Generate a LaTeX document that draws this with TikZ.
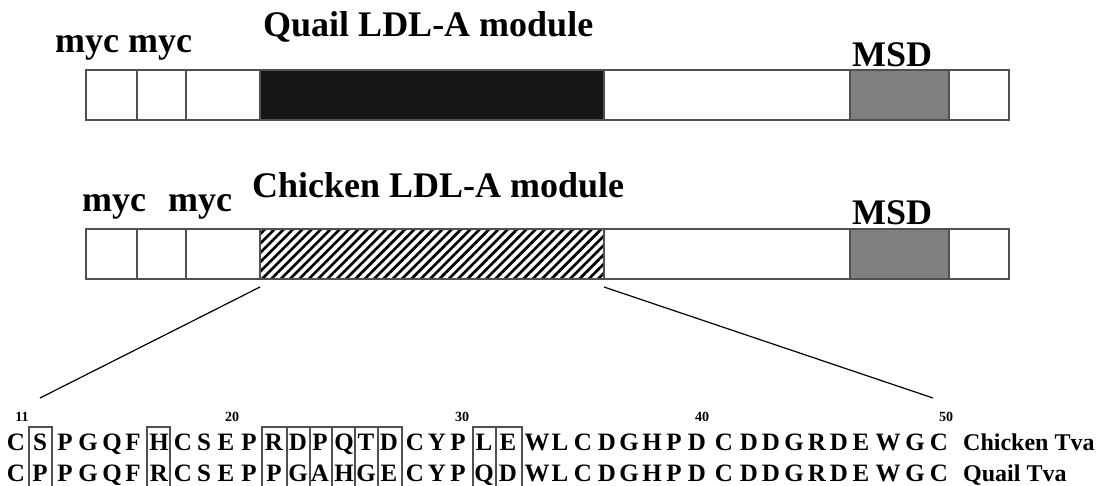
\documentclass[tikz,border=0pt]{standalone}
\usepackage{fontspec}
\setmainfont{Liberation Serif}
\usetikzlibrary{positioning,patterns.meta}
\definecolor{msdgray}{HTML}{7F7F7F}
\definecolor{edgegray}{HTML}{505050}
\definecolor{ldlblack}{HTML}{161616}

\begin{document}
\begin{tikzpicture}[
  x=1pt,
  y=-1pt,
  seg/.style={draw=edgegray, line width=1.2pt, fill=white, minimum height=50pt, inner sep=0pt, outer sep=0pt},
  quailmod/.style={seg, fill=ldlblack},
  chickmod/.style={seg, pattern={Lines[angle=45, distance=6.6pt, line width=2.7pt]}},
  msd/.style={seg, fill=msdgray},
  head/.style={font=\fontsize{36}{36}\selectfont\bfseries, anchor=base west, inner sep=0pt},
  res/.style={font=\fontsize{25}{25}\selectfont\bfseries, anchor=base, inner sep=0pt},
  tvalab/.style={font=\fontsize{24}{24}\selectfont\bfseries, anchor=base west, inner sep=0pt},
  num/.style={font=\fontsize{14}{14}\selectfont\bfseries, anchor=base, inner sep=0pt},
  seqbox/.style={draw=edgegray, line width=1.1pt},
  zoomline/.style={line width=1.2pt}
]
\useasboundingbox (0,0) rectangle (1098,485);

\node[head] (qmyc) at (55,52) {myc myc};
\node[head] (qtitle) at (263,36) {Quail LDL-A module};
\node[head] (qmsdlab) at (852,66) {MSD};
\node[seg, minimum width=51pt, anchor=west] (qa) at (86,95) {};
\node[seg, minimum width=49pt, right=0pt of qa] (qb) {};
\node[seg, minimum width=74pt, right=0pt of qb] (qc) {};
\node[quailmod, minimum width=344pt, right=0pt of qc] (qm) {};
\node[seg, minimum width=246pt, right=0pt of qm] (qd) {};
\node[msd, minimum width=99pt, right=0pt of qd] (qmsd) {};
\node[seg, minimum width=60pt, right=0pt of qmsd] (qe) {};

\node[head] (cmyc) at (82,211) {myc\hspace{22pt}myc};
\node[head] (ctitle) at (252,197) {Chicken LDL-A module};
\node[head] (cmsdlab) at (852,224) {MSD};
\node[seg, minimum width=51pt, anchor=west] (ca) at (86,254) {};
\node[seg, minimum width=49pt, right=0pt of ca] (cb) {};
\node[seg, minimum width=74pt, right=0pt of cb] (cc) {};
\node[chickmod, minimum width=344pt, right=0pt of cc] (cm) {};
\node[seg, minimum width=246pt, right=0pt of cm] (cd) {};
\node[msd, minimum width=99pt, right=0pt of cd] (cmsd) {};
\node[seg, minimum width=60pt, right=0pt of cmsd] (ce) {};

\coordinate (zl) at (40,398);
\coordinate (zr) at (933,398);
\draw[zoomline] ([yshift=-8pt]cm.south west) -- (zl);
\draw[zoomline] ([yshift=-8pt]cm.south east) -- (zr);

\foreach \a/\b in {29/52, 147/170, 262/287, 287/310, 310/332, 332/355, 355/378, 378/402, 473/496, 496/522}
  \draw[seqbox] (\a,427) rectangle (\b,492);

\foreach \n/\x in {11/22, 20/232, 30/462, 40/702, 50/946}
  \node[num] (n\n) at (\x,421) {\n};

\foreach \n/\x/\c/\q in {11/16/C/C, 12/40/S/P, 13/65/P/P, 14/88/G/G, 15/112/Q/Q, 16/133/F/F, 17/159/H/R, 18/183/C/C, 19/204/S/S, 20/226/E/E,
    21/249/P/P, 22/274/R/P, 23/298/D/G, 24/320/P/A, 25/344/Q/H, 26/366/T/G, 27/389/D/E, 28/415/C/C, 29/437/Y/Y, 30/458/P/P,
    31/484/L/Q, 32/508/E/D, 33/537/W/W, 34/560/L/L, 35/583/C/C, 36/607/D/D, 37/629/G/G, 38/652/H/H, 39/674/P/P, 40/697/D/D,
    41/724/C/C, 42/749/D/D, 43/771/D/D, 44/794/G/G, 45/817/R/R, 46/839/D/D, 47/861/E/E, 48/888/W/W, 49/915/G/G, 50/939/C/C} {
  \node[res] (c\n) at (\x,450) {\c};
  \node[res] (q\n) at (\x,481) {\q};
}

\node[tvalab] (ctva) at (963,450) {Chicken Tva};
\node[tvalab] (qtva) at (963,481) {Quail Tva};
\end{tikzpicture}
\end{document}
